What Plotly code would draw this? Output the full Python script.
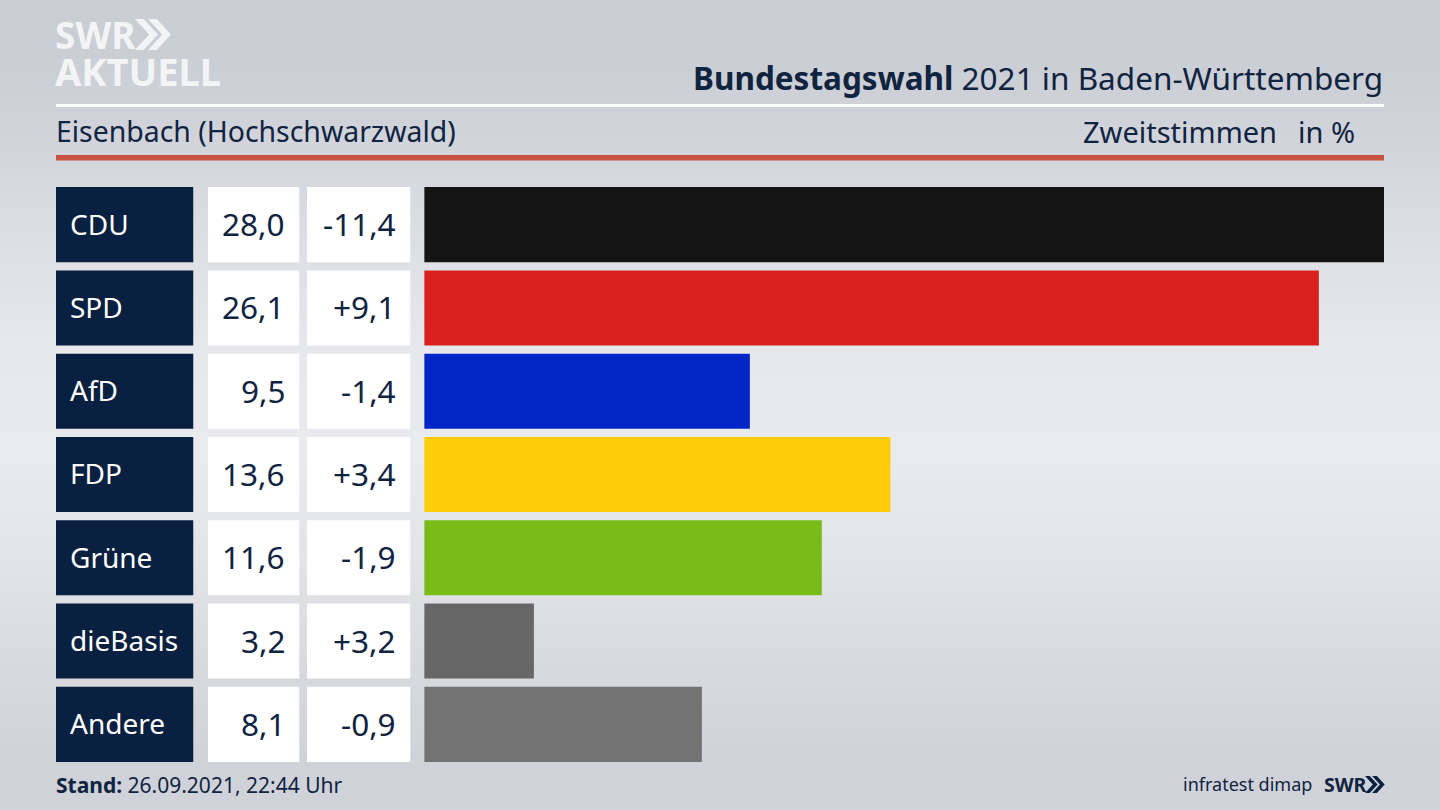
import plotly.graph_objects as go

W, H = 1440, 810

parties = ["CDU", "SPD", "AfD", "FDP", "Grüne", "dieBasis", "Andere"]
shares = [28.0, 26.1, 9.5, 13.6, 11.6, 3.2, 8.1]
changes = [-11.4, 9.1, -1.4, 3.4, -1.9, 3.2, -0.9]
bar_colors = ["#141414", "#da201e", "#0225c6", "#ffcc0a", "#79bc1a", "#676767", "#727272"]

bg_stops = ["#c9cdd4", "#d2d5db", "#dee0e5", "#e7e8ec", "#e9eaee", "#e2e4e8", "#d8dade", "#cfd2d8"]

NAVY = "#0a2040"
INK = "#10233f"
FONT = "Noto Sans"


def fmt(v, sign=False):
    s = f"{v:+.1f}" if sign else f"{v:.1f}"
    return s.replace(".", ",")


def fx(px):
    return px / W


def fy(px):
    return 1 - px / H


fig = go.Figure()

# background gradient, has to be on the first subplot so it stays behind
fig.add_trace(go.Heatmap(
    z=[[i, i] for i in range(len(bg_stops))],
    colorscale=[[i / (len(bg_stops) - 1), c] for i, c in enumerate(bg_stops)],
    showscale=False, zsmooth="best", hoverinfo="skip",
    xaxis="x", yaxis="y",
))

# the three table columns are plain bars on their own x axes
for xa, color in [("x2", NAVY), ("x3", "white"), ("x4", "white")]:
    fig.add_trace(go.Bar(
        x=[1] * len(parties), y=parties, orientation="h",
        marker=dict(color=color, line_width=0),
        hoverinfo="skip", xaxis=xa, yaxis="y2",
    ))

fig.add_trace(go.Bar(
    x=shares, y=parties, orientation="h",
    marker=dict(color=bar_colors, line_width=0),
    hoverinfo="x+y", xaxis="x5", yaxis="y2",
))

hidden = dict(visible=False, fixedrange=True)
bg_y = dict(hidden, domain=[0, 1], autorange="reversed")
fig.update_layout(
    width=W, height=H,
    margin=dict(l=0, r=0, t=0, b=0),
    showlegend=False,
    barmode="overlay",
    bargap=0.099,
    paper_bgcolor="#dcdee3",
    plot_bgcolor="rgba(0,0,0,0)",
    xaxis=dict(hidden, domain=[0, 1]),
    yaxis=bg_y,
    yaxis2=dict(hidden, domain=[fy(766), fy(183)], autorange="reversed", anchor="x2",
                type="category", categoryorder="array", categoryarray=parties),
    xaxis2=dict(hidden, domain=[fx(56), fx(193.5)], range=[0, 1], anchor="y2"),
    xaxis3=dict(hidden, domain=[fx(208), fx(299.5)], range=[0, 1], anchor="y2"),
    xaxis4=dict(hidden, domain=[fx(307), fx(410.5)], range=[0, 1], anchor="y2"),
    xaxis5=dict(hidden, domain=[fx(424.2), fx(1384)], range=[0, 28], anchor="y2"),
    font=dict(family=FONT, color=INK),
)

# rules
fig.add_shape(type="rect", xref="paper", yref="paper", x0=fx(56), x1=fx(1384), y0=fy(107), y1=fy(104),
              fillcolor="white", line_width=0)
fig.add_shape(type="rect", xref="paper", yref="paper", x0=fx(56), x1=fx(1384), y0=fy(160.5), y1=fy(155),
              fillcolor="#c9513f", line_width=0)


def chevrons(x, y, h, color):
    # the two arrows of the SWR logo, x/y is the top left corner in pixels
    w = h * 0.46
    t = h * 0.28
    for off in (0, h * 0.42):
        pts = [(x + off, y), (x + off + t, y), (x + off + t + w, y + h / 2),
               (x + off + t, y + h), (x + off, y + h), (x + off + w, y + h / 2)]
        path = "M " + " L ".join(f"{fx(a):.5f},{fy(b):.5f}" for a, b in pts) + " Z"
        fig.add_shape(type="path", xref="paper", yref="paper", path=path, fillcolor=color, line_width=0)


chevrons(135, 19, 31, "#f3f4f6")
chevrons(1365, 776, 17, NAVY)


def label(x, y, text, size, anchor="left", color=INK, family=FONT):
    fig.add_annotation(xref="paper", yref="paper", x=fx(x), y=fy(y), text=text, showarrow=False,
                       xanchor=anchor, yanchor="middle",
                       font=dict(size=size, color=color, family=family), borderpad=0)


label(54, 35, "<b>SWR</b>", 37, color="#f3f4f6")
label(54, 71, "<b>AKTUELL</b>", 38, color="#f3f4f6")
label(1384, 77, "<b>Bundestagswahl</b> 2021 in Baden-Württemberg", 31.5, anchor="right")
label(55, 131, "Eisenbach (Hochschwarzwald)", 28.4)
label(1278, 131, "Zweitstimmen", 29, anchor="right")
label(1356, 131, "in %", 29, anchor="right")
label(55, 785, "<b>Stand:</b> 26.09.2021, 22:44 Uhr", 21)
label(1313, 784, "infratest dimap", 18, anchor="right")
label(1323, 784, "<b>SWR</b>", 19.5)

for party, share, change in zip(parties, shares, changes):
    for x, text, anchor, color in [
        (69, party, "left", "white"),
        (286, fmt(share), "right", INK),
        (397, fmt(change, sign=True), "right", INK),
    ]:
        fig.add_annotation(xref="paper", yref="y2", x=fx(x), y=party, text=text, showarrow=False,
                           xanchor=anchor, yanchor="middle", borderpad=0, yshift=1,
                           font=dict(size=31.5 if color != "white" else 28, color=color, family=FONT))

fig.write_html("out.html", post_script="document.body.style.margin='0';",
               config=dict(displayModeBar=False))
